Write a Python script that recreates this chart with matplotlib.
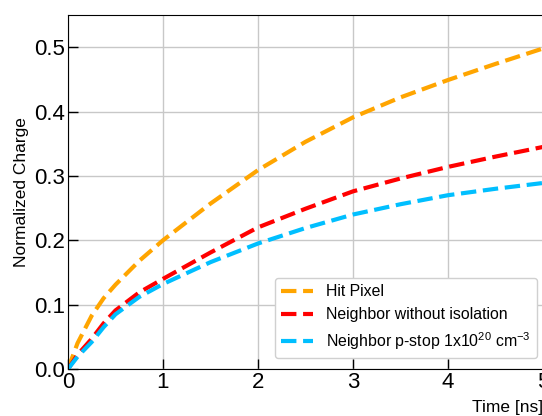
import numpy as np
import matplotlib
matplotlib.use("Agg")
import matplotlib.pyplot as plt

plt.rcParams['font.family'] = ['Liberation Sans', 'DejaVu Sans']
plt.rcParams['mathtext.fontset'] = 'custom'
plt.rcParams['mathtext.rm'] = 'Liberation Sans'

# time [ns]
t = [0.0, 0.1, 0.25, 0.375, 0.5, 0.75, 1.0, 1.5, 2.0, 2.5, 3.0, 3.5, 4.0, 4.5, 5.0]
hit = [0.0, 0.040, 0.083, 0.110, 0.131, 0.168, 0.200, 0.257, 0.309, 0.353, 0.391, 0.422, 0.449, 0.474, 0.498]
nb_noiso = [0.0, 0.022, 0.047, 0.071, 0.091, 0.119, 0.140, 0.181, 0.220, 0.249, 0.276, 0.296, 0.314, 0.330, 0.345]
nb_pstop = [0.0, 0.019, 0.042, 0.065, 0.085, 0.112, 0.132, 0.166, 0.195, 0.219, 0.240, 0.256, 0.270, 0.280, 0.289]

fig = plt.figure(figsize=(5.42, 4.16), dpi=100)
ax = fig.add_axes([68/542, 1-369/416, 475/542, 354/416])

ax.plot(t, hit, '--', color='orange', lw=3, label='Hit Pixel')
ax.plot(t, nb_noiso, '--', color='red', lw=3, label='Neighbor without isolation')
ax.plot(t, nb_pstop, '--', color='deepskyblue', lw=3,
        label=r'Neighbor p-stop 1x10$^{20}$ cm$^{-3}$')

ax.set_xlim(0, 5)
ax.set_ylim(0, 0.55)
ax.set_xticks([0, 1, 2, 3, 4, 5])
ax.set_yticks([0.0, 0.1, 0.2, 0.3, 0.4, 0.5])
ax.grid(True, color='#c8c8c8', lw=1)
ax.set_axisbelow(True)
ax.tick_params(direction='in', length=7, width=1, labelsize=16, pad=2)
ax.xaxis.set_major_formatter(matplotlib.ticker.FormatStrFormatter('%d'))
ax.yaxis.set_major_formatter(matplotlib.ticker.FormatStrFormatter('%.1f'))

ax.set_ylabel('Normalized Charge', fontsize=12.5, labelpad=4)
ax.set_xlabel('Time [ns]', fontsize=12.5, loc='right', labelpad=5)

ax.legend(loc='lower right', bbox_to_anchor=(0.987, 0.031), borderaxespad=0,
          fontsize=11.4, frameon=True, edgecolor='#d0d0d0', framealpha=1,
          handlelength=2.0)

plt.savefig('out.png', dpi=100)
